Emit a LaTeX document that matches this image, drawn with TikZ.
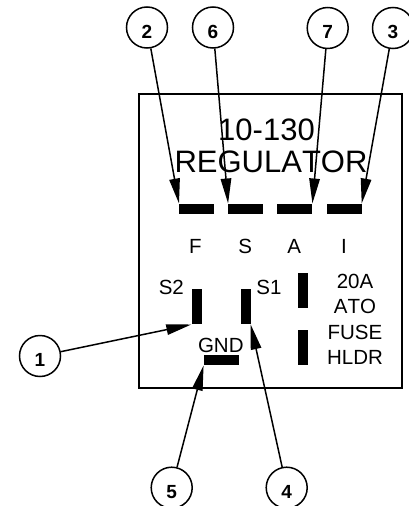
\documentclass[tikz,border=0pt]{standalone}
\usepackage{fontspec}
\setmainfont[Kerning=Off]{Liberation Sans}
\usetikzlibrary{%
  arrows.meta,%
  positioning%
}

\begin{document}
\begin{tikzpicture}[x=1pt,y=-1pt,
	badge/.style={
	circle,minimum size=41pt,inner sep=0pt,
	line width=1.5pt,draw=black,text height=21.7pt,
	font=\fontsize{19}{19}\selectfont\bfseries
	},hbar/.style={
	rectangle,fill=black,inner sep=0pt,
	minimum width=35pt,minimum height=10pt
	},vbar/.style={
	rectangle,fill=black,inner sep=0pt,
	minimum width=10pt,minimum height=35pt
	},label/.style={
	inner sep=0pt,align=center,
	font=\fontsize{20.5}{25.4}\selectfont
	},heading/.style={
	inner sep=0pt,font=\fontsize{31}{32}\selectfont
	},tip/.style={
	-{Triangle[length=25pt,width=10.5pt]},line width=1.5pt
	}
]
\useasboundingbox (0,0) rectangle (409,506);

% housing
\node (housing) [draw=black,line width=1.5pt,inner sep=0pt,minimum width=263pt,minimum height=294pt] at (270.3,241) {};

% titles
\node (titleA) [heading] at (266.5,130) {10-130};
\node (titleB) [heading] at (271,162) {REGULATOR};

% top row
\node (spadeF) [hbar] at (196.7,208.7) {};
\node (spadeS) [hbar] at (245.8,208.7) {};
\node (spadeA) [hbar] at (294.7,208.7) {};
\node (spadeI) [hbar] at (344,208.7) {};
\node (textF) [label] at (195.5,246) {F};
\node (textS) [label] at (245.3,246) {S};
\node (textA) [label] at (294.3,246) {A};
\node (textI) [label] at (344,246) {I};

% middle row
\node (spadeStwo) [vbar] at (196.5,306.8) {};
\node (spadeSone) [vbar] at (245.5,306.8) {};
\node (fuseA) [vbar] at (303.2,290.5) {};
\node (fuseB) [vbar] at (303.2,347.8) {};
\node (spadeG) [hbar] at (221.3,360.3) {};
\node (textStwo) [label] at (171.3,287) {S2};
\node (textSone) [label] at (269,287) {S1};
\node (textG) [label] at (220.8,345) {GND};
\node (textFuse) [label] at (355,319.5) {20A\\ATO\\FUSE\\HLDR};

% callouts
\node (badge2) [badge] at (147,27.5) {2};
\node (badge6) [badge] at (213,27.5) {6};
\node (badge7) [badge] at (327.7,28) {7};
\node (badge3) [badge] at (393,28) {3};
\node (badge1) [badge] at (40,356) {1};
\node (badge5) [badge] at (171.7,487.7) {5};
\node (badge4) [badge] at (286.7,487.7) {4};

\path	(badge2) edge[tip] (spadeF.north west)
	(badge6) edge[tip] (spadeS.north west)
	(badge7) edge[tip] (spadeA.north east)
	(badge3) edge[tip] (spadeI.north east);
\path	(badge1) edge[tip] (spadeStwo.south west)
	(badge4) edge[tip] (spadeSone.south east)
	(badge5) edge[tip] (spadeG.south west);

\end{tikzpicture}
\end{document}
